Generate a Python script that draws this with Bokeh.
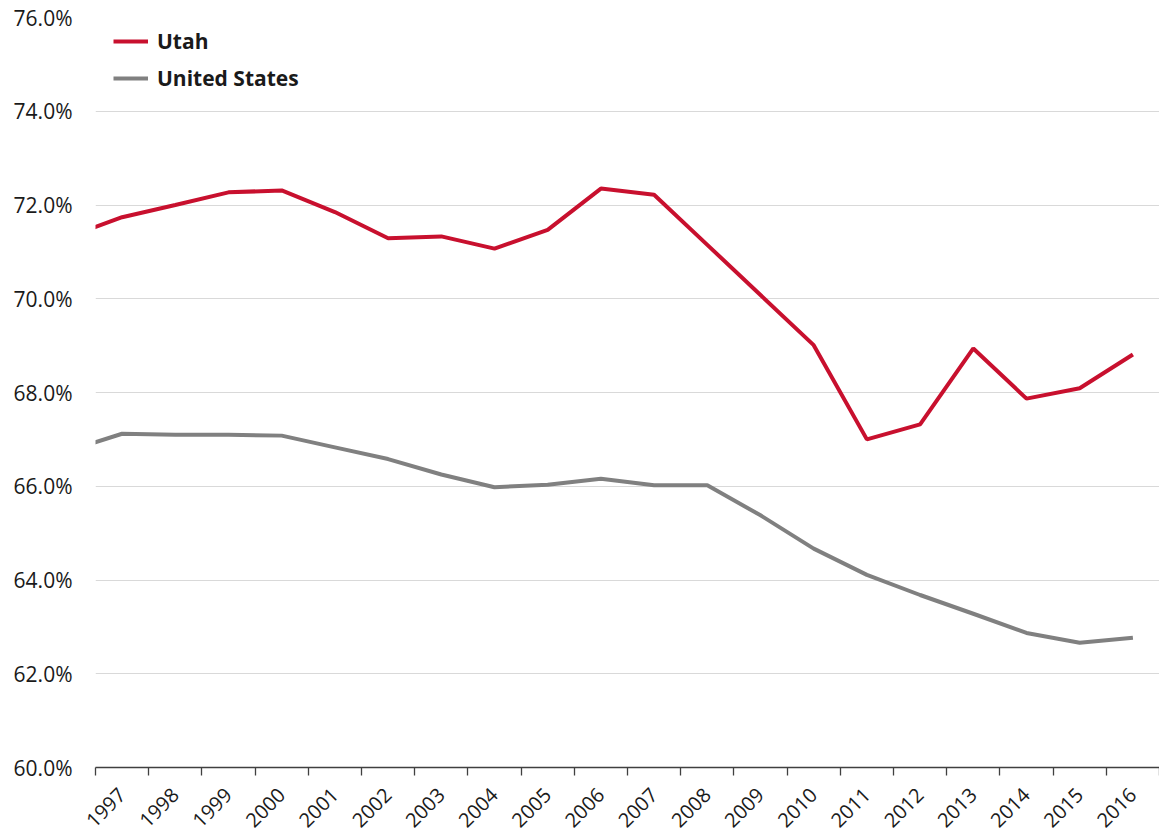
import math
from bokeh.plotting import figure
from bokeh.models import Range1d, FixedTicker, PrintfTickFormatter, Legend, LegendItem, ColumnDataSource
from bokeh.embed import file_html
from bokeh.resources import INLINE

years = [1996, 1997, 1998, 1999, 2000, 2001, 2002, 2003, 2004, 2005, 2006,
         2007, 2008, 2009, 2010, 2011, 2012, 2013, 2014, 2015, 2016]
utah = [71.32, 71.74, 72.00, 72.27, 72.31, 71.85, 71.29, 71.33, 71.07, 71.47, 72.35,
        72.22, 71.15, 70.08, 69.01, 67.00, 67.32, 68.94, 67.87, 68.09, 68.81]
us = [66.76, 67.12, 67.10, 67.10, 67.08, 66.83, 66.58, 66.25, 65.98, 66.03, 66.16,
      66.02, 66.02, 65.38, 64.67, 64.11, 63.68, 63.28, 62.87, 62.66, 62.77]
y_ticks = [60, 62, 64, 66, 68, 70, 72, 74, 76]

src = ColumnDataSource(dict(year=years, utah=utah, us=us))

FONT = "Open Sans"
TEXT = "#1a1a1a"

p = figure(frame_width=1064, frame_height=750,
           x_range=Range1d(years[1] - 0.5, years[-1] + 0.5),
           y_range=Range1d(y_ticks[0], y_ticks[-1]),
           output_backend="svg", toolbar_location=None,
           min_border_left=95, min_border_right=0, min_border_top=17, min_border_bottom=0)
p.outline_line_color = None
p.background_fill_color = "white"
p.border_fill_color = "white"

r_us = p.line("year", "us", source=src, line_color="#808080", line_width=4)
r_ut = p.line("year", "utah", source=src, line_color="#C8102E", line_width=4)

# grid
p.xgrid.grid_line_color = None
p.ygrid.ticker = FixedTicker(ticks=y_ticks)
p.ygrid.grid_line_color = "#d9d9d9"
p.ygrid.grid_line_width = 1

# y axis
p.yaxis.ticker = FixedTicker(ticks=y_ticks)
p.yaxis.formatter = PrintfTickFormatter(format="%.1f%%")
p.yaxis.axis_line_color = None
p.yaxis.major_tick_line_color = None
p.yaxis.minor_tick_line_color = None
p.yaxis.major_tick_out = 0
p.yaxis.major_label_standoff = 23
p.yaxis.major_label_text_font = FONT
p.yaxis.major_label_text_font_size = "21px"
p.yaxis.major_label_text_color = TEXT

# x axis
p.xaxis.ticker = FixedTicker(ticks=years[1:], minor_ticks=[y - 0.5 for y in years[1:]] + [years[-1] + 0.5])
p.xaxis.major_tick_line_color = None
p.xaxis.major_tick_out = 0
p.xaxis.major_tick_in = 0
p.xaxis.minor_tick_out = 8
p.xaxis.minor_tick_in = 0
p.xaxis.minor_tick_line_color = "#404040"
p.xaxis.minor_tick_line_width = 1.3
p.xaxis.axis_line_color = "#404040"
p.xaxis.axis_line_width = 1.3
p.xaxis.major_label_orientation = math.pi / 4
p.xaxis.major_label_standoff = 16
p.xaxis.major_label_text_font = FONT
p.xaxis.major_label_text_font_size = "20px"
p.xaxis.major_label_text_color = TEXT

legend = Legend(items=[LegendItem(label="Utah", renderers=[r_ut]),
                       LegendItem(label="United States", renderers=[r_us])],
                location=(18, 675), margin=0, padding=0, spacing=9,
                glyph_width=35, label_standoff=9,
                border_line_color=None, background_fill_alpha=0,
                label_text_font=FONT, label_text_font_style="bold",
                label_text_font_size="21px", label_text_color=TEXT)
p.add_layout(legend)

open("out.html", "w").write(file_html(p, INLINE))
